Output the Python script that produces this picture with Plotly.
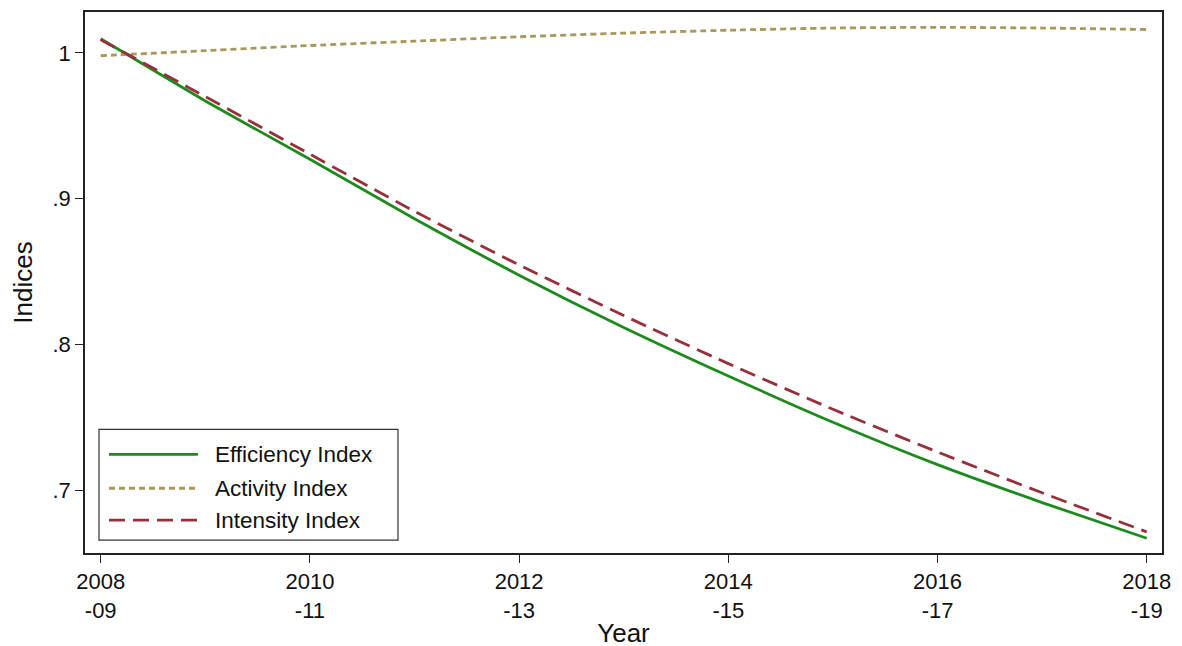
import plotly.graph_objects as go

years = [2008, 2009, 2010, 2011, 2012, 2013, 2014, 2015, 2016, 2017, 2018]
efficiency = [1.0096, 0.967, 0.927, 0.8862, 0.8475, 0.8116, 0.7783, 0.7466, 0.7175, 0.6915, 0.667]
activity = [0.998, 1.0015, 1.005, 1.008, 1.011, 1.0135, 1.0155, 1.017, 1.0175, 1.017, 1.016]
intensity = [1.009, 0.970, 0.9305, 0.8913, 0.8545, 0.8198, 0.7868, 0.7555, 0.7262, 0.6982, 0.6714]

tick_years = [2008, 2010, 2012, 2014, 2016, 2018]
tick_text = ["2008<br>-09", "2010<br>-11", "2012<br>-13", "2014<br>-15", "2016<br>-17", "2018<br>-19"]
y_ticks = [0.7, 0.8, 0.9, 1.0]
y_text = [".7", ".8", ".9", "1"]

names = ["Efficiency Index", "Activity Index", "Intensity Index"]
colors = ["rgb(30,138,30)", "rgb(168,152,90)", "rgb(150,48,60)"]
dashes = ["solid", "6px,4px", "16px,8px"]
series = [efficiency, activity, intensity]

FONT = "Liberation Sans, Arial, Helvetica, sans-serif"

fig = go.Figure()
for name, vals, c, d in zip(names, series, colors, dashes):
    fig.add_trace(go.Scatter(x=years, y=vals, mode="lines", name=name,
                             line=dict(color=c, width=2.8, dash=d, shape="spline", smoothing=0.6),
                             showlegend=False))

# manual legend (paper coordinates)
lx0, lx1 = 0.013, 0.2906
ly0, ly1 = 0.0239, 0.2284
fig.add_shape(type="rect", xref="paper", yref="paper", x0=lx0, x1=lx1, y0=ly0, y1=ly1,
              line=dict(color="#333333", width=1.2), fillcolor="white", layer="above")
rows = [0.1823, 0.1197, 0.0608]
for name, c, d, ry in zip(names, colors, dashes, rows):
    fig.add_shape(type="line", xref="paper", yref="paper", x0=0.0223, x1=0.1049, y0=ry, y1=ry,
                  line=dict(color=c, width=2.8, dash=d), layer="above")
    fig.add_annotation(xref="paper", yref="paper", x=0.1188, y=ry, text=name, showarrow=False,
                       xanchor="left", yanchor="middle",
                       font=dict(family=FONT, size=22.5, color="#111111"))

fig.update_layout(
    width=1182, height=646,
    margin=dict(l=77, r=28, t=2, b=101),
    paper_bgcolor="white", plot_bgcolor="white",
    font=dict(family=FONT, size=22, color="#111111"),
)
fig.update_xaxes(
    range=[2007.85, 2018.146], tickmode="array", tickvals=tick_years, ticktext=tick_text,
    ticks="outside", ticklen=8, tickwidth=1.3, tickcolor="#222222",
    showline=True, linecolor="#222222", linewidth=1.6, mirror=True,
    showgrid=False, zeroline=False,
    tickfont=dict(family=FONT, size=22, color="#111111"),
    title=dict(text="Year", font=dict(family=FONT, size=26, color="#111111"), standoff=2),
)
fig.update_yaxes(
    range=[0.6569, 1.028], tickmode="array", tickvals=y_ticks, ticktext=y_text,
    ticks="outside", ticklen=8, tickwidth=1.3, tickcolor="#222222",
    showline=True, linecolor="#222222", linewidth=1.6, mirror=True,
    showgrid=False, zeroline=False,
    tickfont=dict(family=FONT, size=22, color="#111111"),
    title=dict(text="Indices", font=dict(family=FONT, size=26, color="#111111"), standoff=12),
)

fig.write_html("out.html")
